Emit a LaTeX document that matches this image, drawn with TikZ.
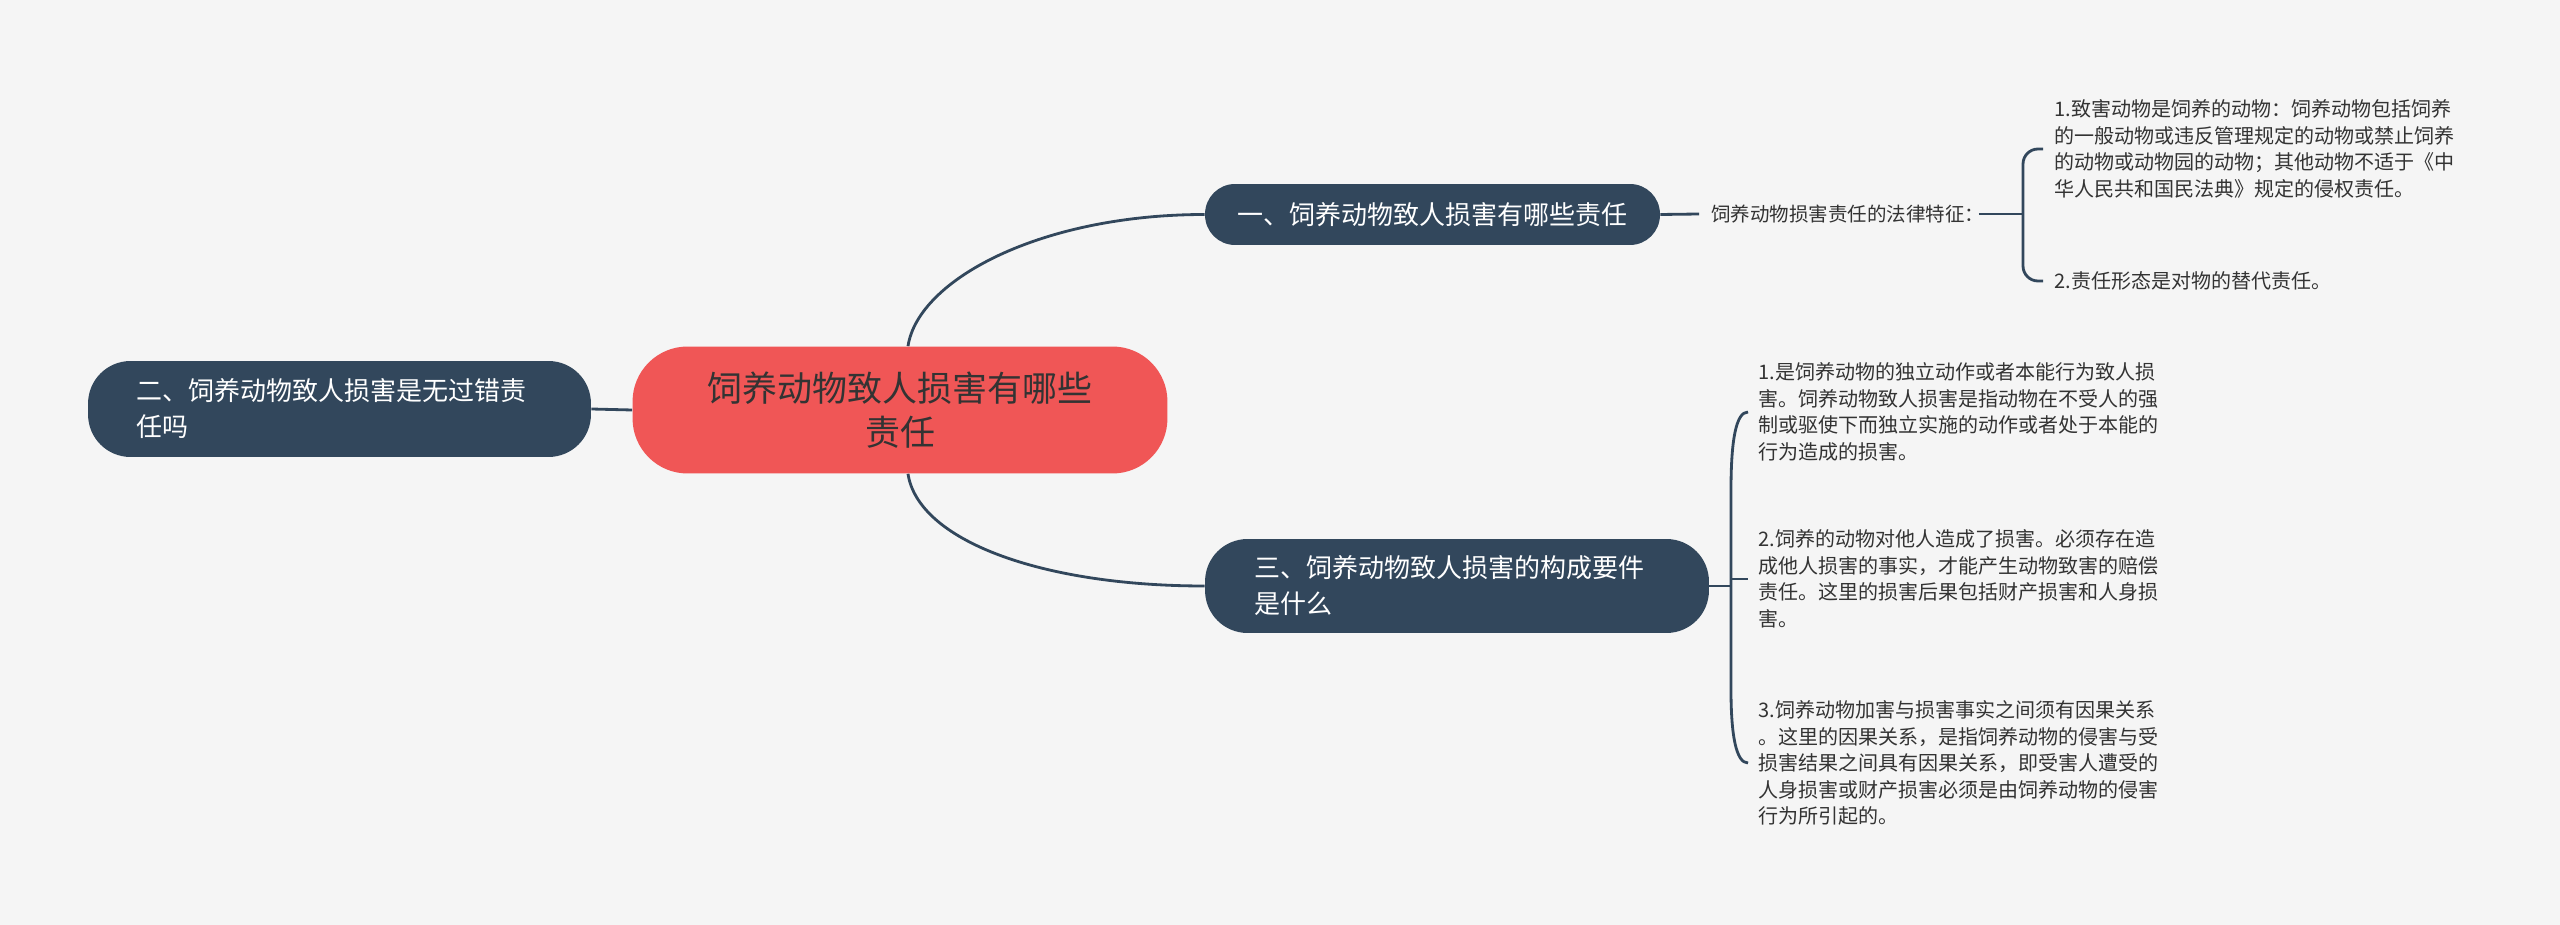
\documentclass[tikz,border=0pt]{standalone}
\usepackage{fontspec}
\newfontfamily\cjk{Noto Sans CJK SC}
\definecolor{navy}{HTML}{32475C}
\definecolor{redc}{HTML}{F05656}
\definecolor{bgc}{HTML}{F5F5F5}
\definecolor{txt}{HTML}{333333}
\tikzset{
  conn/.style={draw=navy, line width=1.6pt},
  topic/.style={fill=navy, text=white, inner sep=0pt, font=\cjk\fontsize{14.8pt}{20.5pt}\selectfont},
  leaf/.style={anchor=west, inner sep=0pt, text=txt, align=left, font=\cjk\fontsize{11.4pt}{15.1pt}\selectfont},
}
\begin{document}
\begin{tikzpicture}[x=0.02cm, y=-0.02cm]
\fill[bgc] (0,0) rectangle (2560,925);
\useasboundingbox (0,0) rectangle (2560,925);

\node[fill=redc, text=txt, inner sep=0pt, rounded corners=1.1cm, minimum width=10.7cm, minimum height=2.54cm, align=center, font=\cjk\fontsize{19.9pt}{25pt}\selectfont] (c) at (900,410) {饲养动物致人损害有哪些\\责任};

\node[topic, rounded corners=0.6cm, minimum width=9.1cm, minimum height=1.22cm] (n1) at (1432.5,214.5) {一、饲养动物致人损害有哪些责任};
\node[topic, rounded corners=0.85cm, minimum width=10.06cm, minimum height=1.92cm, text width=8.14cm, align=left] (n2) at (339.5,409) {二、饲养动物致人损害是无过错责\\任吗};
\node[topic, rounded corners=0.85cm, minimum width=10.08cm, minimum height=1.88cm, text width=8.12cm, align=left] (n3) at (1457,586) {三、饲养动物致人损害的构成要件\\是什么};

\node[anchor=west, inner sep=0pt, text=txt, font=\cjk\fontsize{11.1pt}{14pt}\selectfont] (lab) at (1711,214) {饲养动物损害责任的法律特征：};

\node[leaf] (l1) at (2054,149) {1.致害动物是饲养的动物：饲养动物包括饲养\\的一般动物或违反管理规定的动物或禁止饲养\\的动物或动物园的动物；其他动物不适于《中\\华人民共和国民法典》规定的侵权责任。};
\node[leaf] (l2) at (2054,281) {2.责任形态是对物的替代责任。};

\node[leaf] (l3a) at (1758,412) {1.是饲养动物的独立动作或者本能行为致人损\\害。饲养动物致人损害是指动物在不受人的强\\制或驱使下而独立实施的动作或者处于本能的\\行为造成的损害。};
\node[leaf] (l3b) at (1758,579) {2.饲养的动物对他人造成了损害。必须存在造\\成他人损害的事实，才能产生动物致害的赔偿\\责任。这里的损害后果包括财产损害和人身损\\害。};
\node[leaf] (l3c) at (1758,763) {3.饲养动物加害与损害事实之间须有因果关系\\。这里的因果关系，是指饲养动物的侵害与受\\损害结果之间具有因果关系，即受害人遭受的\\人身损害或财产损害必须是由饲养动物的侵害\\行为所引起的。};

% connectors
\draw[conn] ([xshift=0.16cm]c.north) .. controls (918,280) and (1040,214.5) .. (n1.west);
\draw[conn] ([xshift=0.16cm]c.south) .. controls (918,540) and (1040,586) .. (n3.west);
\draw[conn] (n2.east) -- (c.west);

\draw[conn] (n1.east) -- ([xshift=-0.24cm]lab.west);
\coordinate (b1) at (2023,214);
\draw[conn] ([xshift=-0.12cm]lab.east) -- (b1);
\draw[conn, rounded corners=0.3cm] ([xshift=-0.22cm]l1.west) -| (b1) |- ([xshift=-0.22cm]l2.west);

\coordinate (b2) at (1731,586);
\draw[conn] (n3.east) -- (b2);
\draw[conn] ([xshift=-0.2cm]l3a.west) .. controls (1736,412) and (1731,440) .. (1731,490) -- (1731,690) .. controls (1731,735) and (1736,763) .. ([xshift=-0.2cm]l3c.west);
\draw[conn] (1731,579) -- ([xshift=-0.2cm]l3b.west);
\end{tikzpicture}
\end{document}
